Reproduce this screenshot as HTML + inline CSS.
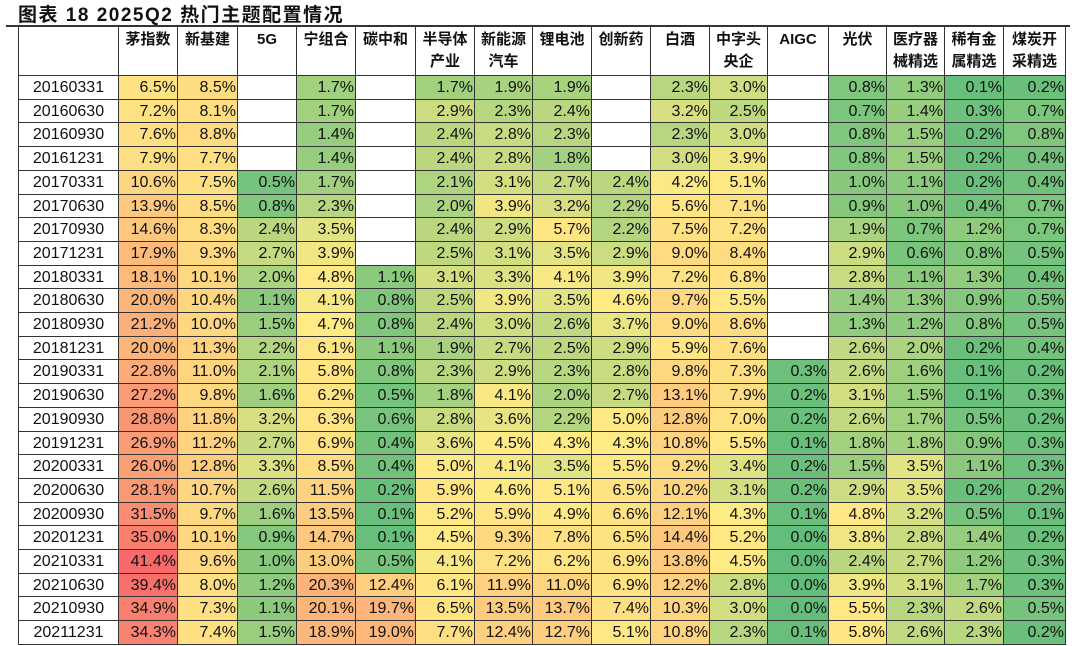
<!DOCTYPE html>
<html><head><meta charset="utf-8">
<style>
body{margin:0;background:#fff;width:1080px;height:646px;overflow:hidden;position:relative;font-family:"Liberation Sans","Noto Sans CJK SC",sans-serif;}
#title{position:absolute;left:18px;top:0px;font-size:19px;font-weight:bold;color:#111;letter-spacing:1.5px;}
#topline{position:absolute;left:6px;top:25px;width:1064px;height:2px;background:#333;}
.c{position:absolute;box-sizing:border-box;border-right:1px solid #333;border-bottom:1px solid #333;font-size:16px;color:#111;line-height:23px;white-space:nowrap;overflow:hidden;}
.v{text-align:right;padding-right:1px;}
.d{text-align:center;background:#fff;}
.h{text-align:center;font-weight:bold;font-size:15px;line-height:22px;padding-top:2px;background:#fff;}
</style></head><body>
<div id="title">图表 18 2025Q2 热门主题配置情况</div>
<div id="topline"></div>
<div id="grid"></div>
<script>
const themes=["茅指数","新基建","5G","宁组合","碳中和","半导体<br>产业","新能源<br>汽车","锂电池","创新药","白酒","中字头<br>央企","AIGC","光伏","医疗器<br>械精选","稀有金<br>属精选","煤炭开<br>采精选"];
const dates=["20160331","20160630","20160930","20161231","20170331","20170630","20170930","20171231","20180331","20180630","20180930","20181231","20190331","20190630","20190930","20191231","20200331","20200630","20200930","20201231","20210331","20210630","20210930","20211231"];
const _=null;
const values=[
[6.5,8.5,_,1.7,_,1.7,1.9,1.9,_,2.3,3.0,_,0.8,1.3,0.1,0.2],
[7.2,8.1,_,1.7,_,2.9,2.3,2.4,_,3.2,2.5,_,0.7,1.4,0.3,0.7],
[7.6,8.8,_,1.4,_,2.4,2.8,2.3,_,2.3,3.0,_,0.8,1.5,0.2,0.8],
[7.9,7.7,_,1.4,_,2.4,2.8,1.8,_,3.0,3.9,_,0.8,1.5,0.2,0.4],
[10.6,7.5,0.5,1.7,_,2.1,3.1,2.7,2.4,4.2,5.1,_,1.0,1.1,0.2,0.4],
[13.9,8.5,0.8,2.3,_,2.0,3.9,3.2,2.2,5.6,7.1,_,0.9,1.0,0.4,0.7],
[14.6,8.3,2.4,3.5,_,2.4,2.9,5.7,2.2,7.5,7.2,_,1.9,0.7,1.2,0.7],
[17.9,9.3,2.7,3.9,_,2.5,3.1,3.5,2.9,9.0,8.4,_,2.9,0.6,0.8,0.5],
[18.1,10.1,2.0,4.8,1.1,3.1,3.3,4.1,3.9,7.2,6.8,_,2.8,1.1,1.3,0.4],
[20.0,10.4,1.1,4.1,0.8,2.5,3.9,3.5,4.6,9.7,5.5,_,1.4,1.3,0.9,0.5],
[21.2,10.0,1.5,4.7,0.8,2.4,3.0,2.6,3.7,9.0,8.6,_,1.3,1.2,0.8,0.5],
[20.0,11.3,2.2,6.1,1.1,1.9,2.7,2.5,2.9,5.9,7.6,_,2.6,2.0,0.2,0.4],
[22.8,11.0,2.1,5.8,0.8,2.3,2.9,2.3,2.8,9.8,7.3,0.3,2.6,1.6,0.1,0.2],
[27.2,9.8,1.6,6.2,0.5,1.8,4.1,2.0,2.7,13.1,7.9,0.2,3.1,1.5,0.1,0.3],
[28.8,11.8,3.2,6.3,0.6,2.8,3.6,2.2,5.0,12.8,7.0,0.2,2.6,1.7,0.5,0.2],
[26.9,11.2,2.7,6.9,0.4,3.6,4.5,4.3,4.3,10.8,5.5,0.1,1.8,1.8,0.9,0.3],
[26.0,12.8,3.3,8.5,0.4,5.0,4.1,3.5,5.5,9.2,3.4,0.2,1.5,3.5,1.1,0.3],
[28.1,10.7,2.6,11.5,0.2,5.9,4.6,5.1,6.5,10.2,3.1,0.2,2.9,3.5,0.2,0.2],
[31.5,9.7,1.6,13.5,0.1,5.2,5.9,4.9,6.6,12.1,4.3,0.1,4.8,3.2,0.5,0.1],
[35.0,10.1,0.9,14.7,0.1,4.5,9.3,7.8,6.5,14.4,5.2,0.0,3.8,2.8,1.4,0.2],
[41.4,9.6,1.0,13.0,0.5,4.1,7.2,6.2,6.9,13.8,4.5,0.0,2.4,2.7,1.2,0.3],
[39.4,8.0,1.2,20.3,12.4,6.1,11.9,11.0,6.9,12.2,2.8,0.0,3.9,3.1,1.7,0.3],
[34.9,7.3,1.1,20.1,19.7,6.5,13.5,13.7,7.4,10.3,3.0,0.0,5.5,2.3,2.6,0.5],
[34.3,7.4,1.5,18.9,19.0,7.7,12.4,12.7,5.1,10.8,2.3,0.1,5.8,2.6,2.3,0.2]
];
const colX=[18,119,178,238,297,356,416,475,533,592,651,710,768,829,887,945,1004,1066];
const headTop=27, headH=49, rowH=23.7;
let all=[];values.forEach(r=>r.forEach(v=>{if(v!==null)all.push(v);}));
const vMin=Math.min(...all), vMax=Math.max(...all), vMid=4.3;
function lerp(a,b,t){return a.map((x,i)=>Math.round(x+(b[i]-x)*t));}
function color(v){
  const g=[99,190,123],y=[255,235,132],r=[248,105,107];
  let c=v<=vMid?lerp(g,y,(v-vMin)/(vMid-vMin)):lerp(y,r,Math.min(1,(v-vMid)/(vMax-vMid)));
  return `rgb(${c[0]},${c[1]},${c[2]})`;
}
const grid=document.getElementById('grid');
function cell(x,y,w,h,cls){const d=document.createElement('div');d.className='c '+cls;d.style.left=x+'px';d.style.top=y+'px';d.style.width=w+'px';d.style.height=h+'px';grid.appendChild(d);return d;}
let hc=cell(colX[0],headTop,colX[1]-colX[0],headH,'h');
hc.style.borderLeft='1px solid #333';


themes.forEach((t,i)=>{
  const d=cell(colX[i+1],headTop,colX[i+2]-colX[i+1],headH,'h');
  d.innerHTML=t;
  
  
});
dates.forEach((dt,ri)=>{
  const y=Math.round(headTop+headH+ri*rowH), y2=Math.round(headTop+headH+(ri+1)*rowH);
  const d=cell(colX[0],y,colX[1]-colX[0],y2-y,'d');
  d.style.borderLeft='1px solid #333';
  d.textContent=dt;
  
  
  values[ri].forEach((v,ci)=>{
    const c=cell(colX[ci+1],y,colX[ci+2]-colX[ci+1],y2-y,'v');
    if(v!==null){c.textContent=v.toFixed(1)+'%';c.style.background=color(v);}
    else c.style.background='#fff';
    
    
  });
});
</script>
</body></html>
